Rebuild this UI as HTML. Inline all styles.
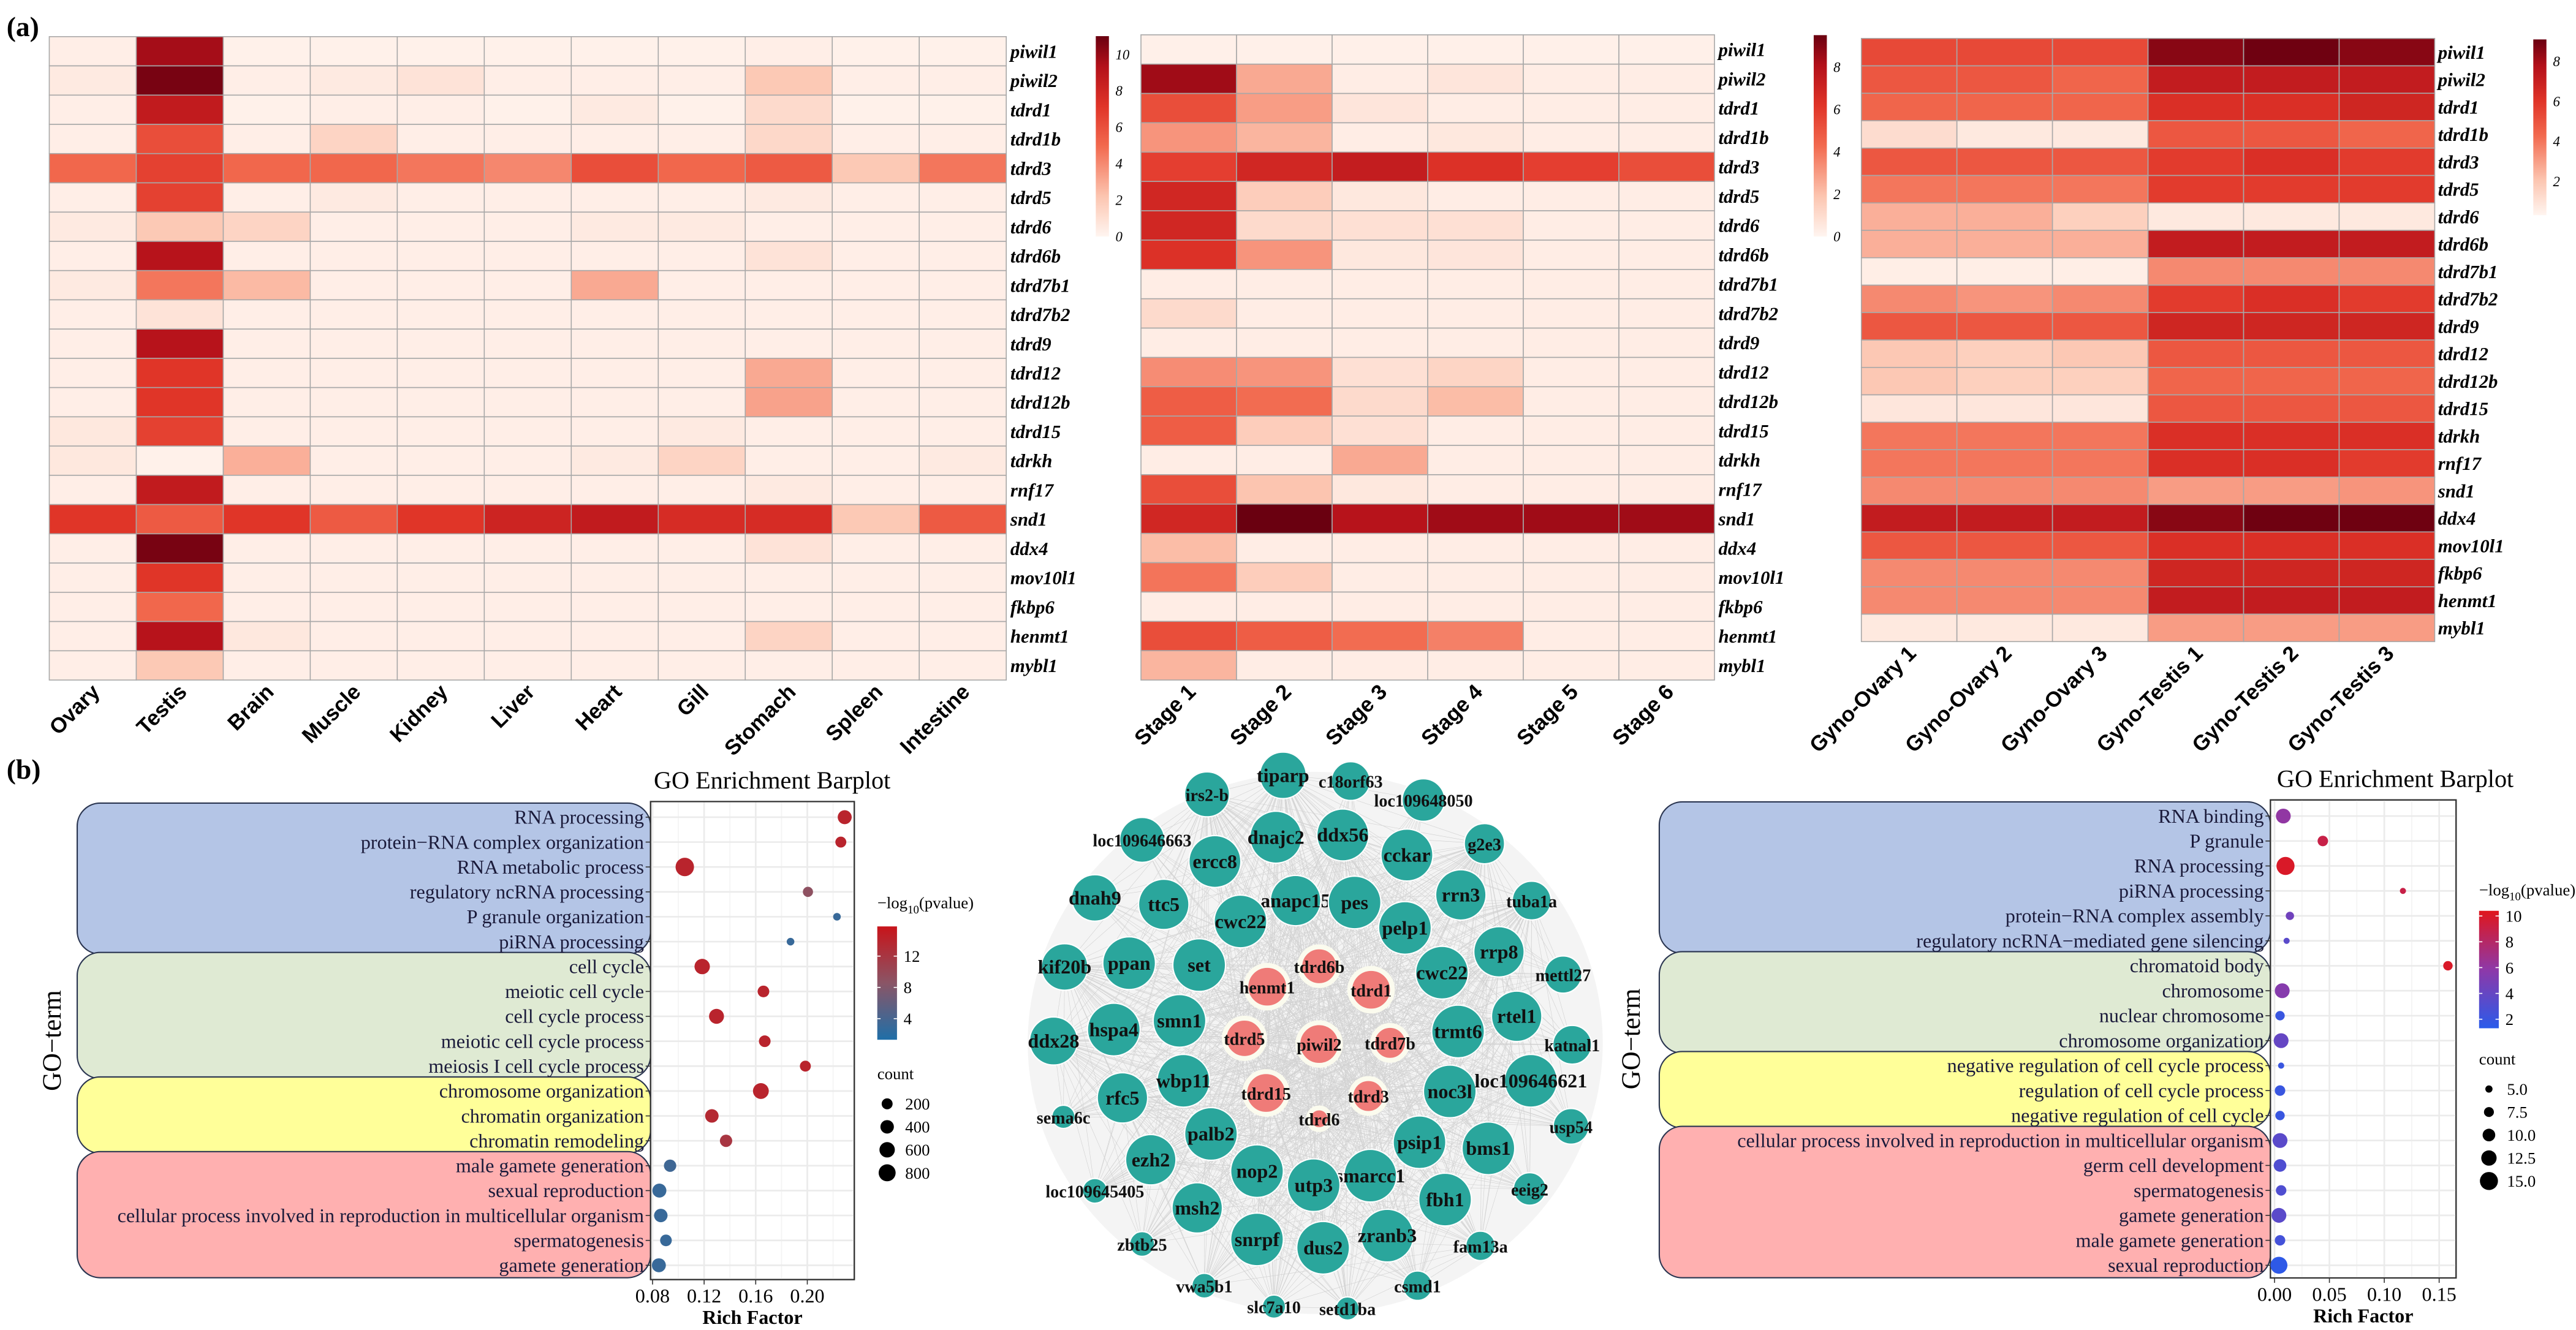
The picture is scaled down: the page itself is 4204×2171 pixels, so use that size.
<!DOCTYPE html>
<html><head><meta charset="utf-8">
<style>
html,body{margin:0;padding:0;background:#fff;}
svg{display:block;}
text{font-family:"Liberation Sans",sans-serif;}
.ser{font-family:"Liberation Serif",serif;}
</style></head>
<body>
<svg id="fig" xmlns="http://www.w3.org/2000/svg" width="4204" height="2171" viewBox="0 0 1568 809.7" preserveAspectRatio="none">
<defs>
<linearGradient id="hmgrad" x1="0" y1="1" x2="0" y2="0">
<stop offset="0" stop-color="#fff5f0"/><stop offset="0.2" stop-color="#fcc5b0"/><stop offset="0.45" stop-color="#f26a4f"/><stop offset="0.65" stop-color="#e03428"/><stop offset="0.85" stop-color="#b3101a"/><stop offset="1" stop-color="#6a0010"/>
</linearGradient>
<linearGradient id="gogradL" x1="0" y1="1" x2="0" y2="0">
<stop offset="0" stop-color="#1f6fa8"/><stop offset="0.5" stop-color="#8a5566"/><stop offset="1" stop-color="#c8141a"/>
</linearGradient>
<linearGradient id="gogradR" x1="0" y1="1" x2="0" y2="0">
<stop offset="0" stop-color="#2a5bea"/><stop offset="0.5" stop-color="#8e38a8"/><stop offset="1" stop-color="#e0161c"/>
</linearGradient>
</defs>
<text x="4" y="22" font-size="17" font-weight="bold" class="ser">(a)</text>
<text x="4" y="474" font-size="17" font-weight="bold" class="ser">(b)</text>
<g id="layer"></g>
</svg>
<script>
// ---------- Heatmap data ----------
const genes = ["piwil1","piwil2","tdrd1","tdrd1b","tdrd3","tdrd5","tdrd6","tdrd6b","tdrd7b1","tdrd7b2","tdrd9","tdrd12","tdrd12b","tdrd15","tdrkh","rnf17","snd1","ddx4","mov10l1","fkbp6","henmt1","mybl1"];
const tissues = ["Ovary","Testis","Brain","Muscle","Kidney","Liver","Heart","Gill","Stomach","Spleen","Intestine"];
const tissueValues = [
[0.3,9.5,0.2,0.2,0.2,0.2,0.2,0.2,0.3,0.2,0.2],
[0.5,10.5,0.3,0.5,0.8,0.3,0.3,0.3,2,0.3,0.3],
[0.3,8.5,0.2,0.3,0.3,0.2,0.5,0.2,1.2,0.2,0.2],
[0.3,6,0.3,1.5,0.3,0.3,0.3,0.3,1.3,0.3,0.3],
[5,6.5,5,5,4.5,4,6,5,5.5,2,4.5],
[0.3,6.5,0.3,0.5,0.3,0.3,0.3,0.3,0.5,0.3,0.3],
[0.5,2,1.5,0.3,0.3,0.3,0.5,0.5,0.3,0.3,0.3],
[0.3,9,0.3,0.3,0.3,0.3,0.3,0.3,0.8,0.3,0.3],
[0.5,4.5,2.5,0.3,0.3,0.3,3,0.3,0.3,0.3,0.3],
[0.3,0.8,0.3,0.3,0.3,0.3,0.3,0.3,0.3,0.3,0.3],
[0.3,9,0.3,0.3,0.3,0.3,0.3,0.3,0.3,0.3,0.3],
[0.3,7,0.3,0.3,0.3,0.3,0.3,0.3,3,0.3,0.3],
[0.3,7,0.3,0.3,0.3,0.3,0.3,0.3,3.2,0.3,0.3],
[0.6,6.5,0.3,0.3,0.3,0.3,0.3,0.5,0.3,0.3,0.3],
[0.6,0.2,2.8,0.3,0.3,0.3,0.5,1.5,0.3,0.3,0.5],
[0.3,8.5,0.3,0.3,0.3,0.3,0.3,0.3,0.5,0.3,0.3],
[7,5.5,7,5.5,7,8,8.5,7.5,7.5,2,5.5],
[0.3,10.5,0.3,0.3,0.3,0.3,0.3,0.3,0.8,0.3,0.3],
[0.3,7,0.3,0.3,0.3,0.3,0.3,0.3,0.3,0.3,0.3],
[0.3,5,0.3,0.3,0.3,0.3,0.3,0.3,0.3,0.3,0.3],
[0.3,9,0.6,0.3,0.3,0.3,0.3,0.3,1.5,0.3,0.3],
[0.3,2,0.3,0.3,0.3,0.3,0.3,0.3,0.3,0.3,0.3]];
const stages = ["Stage 1","Stage 2","Stage 3","Stage 4","Stage 5","Stage 6"];
const stageValues = [
[0.2,0.2,0.2,0.2,0.2,0.2],[8,2.5,0.3,0.6,0.3,0.3],[5,2.8,0.6,0.3,0.3,0.3],[3,2.2,0.3,0.5,0.3,0.3],
[5.5,6.5,7,6,5.5,5],[6.5,1.5,0.5,0.3,0.3,0.3],[6.5,1,0.8,0.8,0.3,0.3],[6,3,0.5,0.6,0.3,0.3],
[0.3,0.3,0.3,0.3,0.3,0.3],[1,0.3,0.3,0.3,0.3,0.3],[0.3,0.3,0.3,0.3,0.3,0.3],[3.2,3,0.8,1.2,0.3,0.3],
[4.5,4,1,2,0.3,0.3],[4.5,1.5,0.8,0.3,0.3,0.3],[0.3,0.3,2.5,0.3,0.3,0.3],[5,1.8,0.5,0.3,0.3,0.3],
[6.5,9.5,7.5,8,8,8],[2,0.3,0.3,0.3,0.3,0.3],[3.8,1.5,0.3,0.3,0.3,0.3],[0.3,0.3,0.3,0.3,0.3,0.3],
[5,4.5,4,3.5,0.3,0.3],[2.2,0.3,0.3,0.3,0.3,0.3]];
const gynoSamples = ["Gyno-Ovary 1","Gyno-Ovary 2","Gyno-Ovary 3","Gyno-Testis 1","Gyno-Testis 2","Gyno-Testis 3"];
const gynoValues = [
[5.5,5.5,5.5,9,9.5,9],[5,5,4.5,7.5,7.5,7.5],[4.5,4.5,4.5,6.5,6.5,7],[1,0.5,0.5,5,5,4.5],
[5,5,5,6,6.5,6],[4,4,4,6,6,6],[2.5,2.5,1.5,0.5,0.5,0.5],[2.5,2.5,2.5,7.5,7.5,7.5],
[0.3,0.3,0.3,3.5,3.5,3.5],[3.5,3.2,3.5,6,6.5,6],[5,5,5,7,7,7],[1.8,1.5,1.8,5,5,5],
[1.8,1.5,1.5,4.5,4.5,4.5],[0.6,0.6,0.6,5,5,5],[4,4,4,6.5,6.5,6.5],[4,4,4,6.5,6.5,6],
[3.5,3.5,3.5,3,3,3.2],[7.5,7.5,7.5,9,9.5,9.5],[5,5,5,6.5,6.5,6.5],[3.5,3.5,3.5,7,7,7],
[3.5,3.5,3.5,7.5,7.5,7.5],[0.5,0.5,0.5,3,3,3]];
const cb1Ticks = [0,2,4,6,8,10];
const cb2Ticks = [0,2,4,6,8];
const cb3Ticks = [2,4,6,8];

// ---------- GO data ----------
const goLeftTerms = ["RNA processing","protein\u2212RNA complex organization","RNA metabolic process","regulatory ncRNA processing","P granule organization","piRNA processing","cell cycle","meiotic cell cycle","cell cycle process","meiotic cell cycle process","meiosis I cell cycle process","chromosome organization","chromatin organization","chromatin remodeling","male gamete generation","sexual reproduction","cellular process involved in reproduction in multicellular organism","spermatogenesis","gamete generation"];
const goLeftRich = [0.229,0.226,0.105,0.2005,0.223,0.187,0.1185,0.166,0.1296,0.167,0.1985,0.164,0.126,0.137,0.0936,0.0853,0.0864,0.0904,0.0849];
const goLeftP = [14,14,14,9,3,3,14,14,14,14,14,14,13.5,12,3.5,3,3,3,3];
const goLeftCount = [450,200,1000,150,40,40,600,250,550,250,200,650,400,300,300,450,400,250,450];
const goLeftTicks = [0.08,0.12,0.16,0.20];
const goLeftPTicks = [4,8,12];
const goLeftCountTicks = [200,400,600,800];

const goRightTerms = ["RNA binding","P granule","RNA processing","piRNA processing","protein\u2212RNA complex assembly","regulatory ncRNA\u2212mediated gene silencing","chromatoid body","chromosome","nuclear chromosome","chromosome organization","negative regulation of cell cycle process","regulation of cell cycle process","negative regulation of cell cycle","cellular process involved in reproduction in multicellular organism","germ cell development","spermatogenesis","gamete generation","male gamete generation","sexual reproduction"];
const goRightRich = [0.008,0.044,0.010,0.117,0.014,0.011,0.158,0.007,0.005,0.006,0.006,0.005,0.005,0.005,0.005,0.006,0.004,0.005,0.004];
const goRightP = [6,9,10,9,4.5,3.5,10,5.5,2,4,2,2,2,3.5,3,3,3.5,2.5,1.5];
const goRightCount = [12,8,15,4,6,4,7,12,7,12,4,8,7,12,10,8,12,8,14];
const goRightTicks = [0.00,0.05,0.10,0.15];
const goRightPTicks = [2,4,6,8,10];
const goRightCountTicks = [5.0,7.5,10.0,12.5,15.0];

// ---------- Network data (node name, zoom-space x, y, radius, hub flag) ----------
const netNodes = [
["tiparp",748,95,60,0],["c18orf63",920,110,50,0],["loc109648050",1105,160,55,0],["irs2-b",555,145,58,0],
["loc109646663",390,265,58,0],["dnajc2",730,258,67,0],["ddx56",900,252,67,0],["ercc8",575,322,67,0],
["cckar",1063,305,67,0],["g2e3",1260,275,52,0],["dnah9",270,418,60,0],["ttc5",445,435,65,0],
["anapc15",780,425,65,0],["pes",930,430,68,0],["rrn3",1200,410,65,0],["tuba1a",1380,425,50,0],
["cwc22",640,480,68,0],["pelp1",1058,497,68,0],["kif20b",193,600,60,0],["ppan",357,590,68,0],
["set",535,595,68,0],["rrp8",1297,560,65,0],["mettl27",1460,620,48,0],["cwc22",1152,615,68,0],
["ddx28",165,795,62,0],["hspa4",318,765,68,0],["smn1",485,742,68,0],["rtel1",1342,730,65,0],
["trmt6",1193,770,68,0],["katnal1",1483,805,50,0],["rfc5",340,945,65,0],["wbp11",495,900,68,0],
["noc3l",1172,928,68,0],["loc109646621",1378,900,68,0],["sema6c",190,995,30,0],["usp54",1480,1020,46,0],
["palb2",565,1040,68,0],["psip1",1095,1062,68,0],["bms1",1270,1078,68,0],["ezh2",412,1108,65,0],
["nop2",682,1138,68,0],["smarcc1",970,1150,68,0],["utp3",826,1175,68,0],["loc109645405",270,1190,32,0],
["eeig2",1375,1185,42,0],["fbh1",1160,1213,68,0],["msh2",530,1235,65,0],["zbtb25",390,1330,32,0],
["snrpf",682,1318,68,0],["dus2",850,1340,68,0],["zranb3",1013,1308,68,0],["fam13a",1250,1335,38,0],
["vwa5b1",548,1440,32,0],["csmd1",1090,1440,38,0],["slc7a10",725,1495,30,0],["setd1ba",912,1500,30,0],
["tdrd6b",840,598,50,1],["henmt1",708,652,55,1],["tdrd1",972,660,55,1],["tdrd5",650,788,52,1],
["piwil2",840,803,55,1],["tdrd7b",1020,800,45,1],["tdrd15",705,932,55,1],["tdrd3",965,940,45,1],["tdrd6",840,1000,28,1]];
</script>
<script>
const NS="http://www.w3.org/2000/svg";
const layer=document.getElementById('layer');
function mk(tag,attrs,parent,txt){const e=document.createElementNS(NS,tag);for(const k in attrs)e.setAttribute(k,attrs[k]);if(txt!==undefined)e.textContent=txt;(parent||layer).appendChild(e);return e;}
const stops=[[0,[255,245,240]],[0.2,[252,197,176]],[0.45,[242,106,79]],[0.65,[224,52,40]],[0.85,[179,16,26]],[1,[106,0,16]]];
function cmap(t){t=Math.max(0,Math.min(1,t));for(let i=1;i<stops.length;i++){if(t<=stops[i][0]){const a=stops[i-1],b=stops[i];const f=(t-a[0])/(b[0]-a[0]);const c=a[1].map((v,j)=>Math.round(v+(b[1][j]-v)*f));return `rgb(${c[0]},${c[1]},${c[2]})`;}}return 'rgb(106,0,16)';}

function heatmap(name,values,cols,x0,x1,y0,y1,vmax,labelX,cb,cbTicks,labelDx){
  const g=mk('g',{});
  
  
  const nr=values.length,nc=cols.length,cw=(x1-x0)/nc,rh=(y1-y0)/nr;
  values.forEach((row,i)=>row.forEach((v,j)=>{
    const r=mk('rect',{x:x0+j*cw,y:y0+i*rh,width:cw,height:rh,fill:cmap(v/vmax),stroke:'#a8a8a8','stroke-width':0.6},g);
    
    
  }));
  genes.forEach((gn,i)=>{
    const t=mk('text',{x:labelX,y:y0+(i+0.5)*rh+4,'font-size':11.5,'font-weight':'bold','font-style':'italic',class:'ser'},g,gn);
    
    
  });
  cols.forEach((c,j)=>{
    const cx=x0+(j+0.5)*cw+labelDx, cy=y1+8;
    const t=mk('text',{x:cx,y:cy,'font-size':13,'font-weight':'bold','text-anchor':'end',transform:`rotate(-45 ${cx} ${cy})`},g,c);
    
    
  });
  const cbr=mk('rect',{x:cb.x,y:cb.top,width:8,height:cb.bot-cb.top,fill:'url(#hmgrad)'},g);
  
  
  cbTicks.forEach(v=>{
    const y=cb.zero-(v/cb.vtop)*(cb.zero-cb.top);
    const t=mk('text',{x:cb.x+12,y:y+3,'font-size':8.5,'font-style':'italic',class:'ser'},g,String(v));
    
    
  });
}
heatmap('tissue-heatmap',tissueValues,tissues,30,612.5,22.3,414,10.8,615,{x:667,top:22,bot:144,zero:144,vtop:11},cb1Ticks,5);
heatmap('stage-heatmap',stageValues,stages,694.5,1043.6,21.2,414,9.0,1046,{x:1104,top:21.4,bot:144,zero:144,vtop:9.5},cb2Ticks,5);
heatmap('gyno-heatmap',gynoValues,gynoSamples,1133,1482,23.4,390.6,9.6,1484,{x:1542,top:24,bot:131,zero:134.6,vtop:9.1},cb3Ticks,5);

// ---------- GO dotplots ----------
function lerpCol(a,b,f){return a.map((v,i)=>Math.round(v+(b[i]-v)*f));}
function goPlot(o){
  const g=mk('g',{});
  
  
  const n=o.terms.length, rowH=(o.yLast-o.yFirst)/(n-1);
  const xs=v=>o.xpx0+(v-o.xv0)*o.pxPer;
  const ys=i=>o.yFirst+i*rowH;
  o.boxes.forEach(b=>{
    const r=mk('rect',{x:o.boxX0,y:ys(b[0])-rowH/2-1,width:o.boxX1-o.boxX0,height:(b[1]-b[0]+1)*rowH+1,rx:14,fill:b[2],stroke:'#2a3550','stroke-width':0.8},g);
    
    
  });
  mk('rect',{x:o.px0,y:o.py0,width:o.px1-o.px0,height:o.py1-o.py0,fill:'#fff',stroke:'#333','stroke-width':0.8},g);
  o.ticks.forEach(v=>{mk('line',{x1:xs(v),x2:xs(v),y1:o.py0,y2:o.py1,stroke:'#ebebeb','stroke-width':1},g);
    const m=v+(o.ticks[1]-o.ticks[0])/2; if(xs(m)<o.px1) mk('line',{x1:xs(m),x2:xs(m),y1:o.py0,y2:o.py1,stroke:'#f3f3f3','stroke-width':0.6},g);});
  o.terms.forEach((t,i)=>{mk('line',{x1:o.px0,x2:o.px1,y1:ys(i),y2:ys(i),stroke:'#ebebeb','stroke-width':1},g);});
  mk('rect',{x:o.px0,y:o.py0,width:o.px1-o.px0,height:o.py1-o.py0,fill:'none',stroke:'#333','stroke-width':0.8},g);
  o.terms.forEach((t,i)=>{
    mk('line',{x1:o.px0-3,x2:o.px0,y1:ys(i),y2:ys(i),stroke:'#333','stroke-width':0.6},g);
    const tx=mk('text',{x:o.px0-4,y:ys(i)+4,'font-size':12,'text-anchor':'end',class:'ser',fill:'#1a1a3a'},g,t);
    
    
  });
  o.ticks.forEach(v=>{
    mk('line',{x1:xs(v),x2:xs(v),y1:o.py1,y2:o.py1+3,stroke:'#333','stroke-width':0.6},g);
    const t=mk('text',{x:xs(v),y:o.py1+14,'font-size':12,'text-anchor':'middle',class:'ser'},g,o.tickFmt(v));
    
    
  });
  const xt=mk('text',{x:(o.px0+o.px1)/2,y:o.py1+27,'font-size':12,'font-weight':'bold','text-anchor':'middle',class:'ser'},g,'Rich Factor');
  
  
  const tt=mk('text',{x:o.titleX,y:o.py0-8,'font-size':15,'text-anchor':'middle',class:'ser'},g,'GO Enrichment Barplot');
  
  
  const yt=mk('text',{x:o.yTitleX,y:(o.py0+o.py1)/2,'font-size':16,'text-anchor':'middle',class:'ser',transform:`rotate(-90 ${o.yTitleX} ${(o.py0+o.py1)/2})`},g,'GO\u2212term');
  
  
  const col=p=>{const f=(p-o.pmin)/(o.pmax-o.pmin);const c=f<0.5?lerpCol(o.cLow,o.cMid,f*2):lerpCol(o.cMid,o.cHigh,(f-0.5)*2);return `rgb(${c})`;};
  o.terms.forEach((t,i)=>{
    const c=mk('circle',{cx:xs(o.rich[i]),cy:ys(i),r:o.rscale(o.count[i]),fill:col(Math.max(o.pmin,Math.min(o.pmax,o.p[i])))},g);
    
    
  });
  const lx=o.legX;
  const lt=mk('text',{x:lx,y:o.legY,'font-size':10,class:'ser'},g,'\u2212log');
  mk('tspan',{'font-size':7,dy:3},lt,'10');
  mk('tspan',{dy:-3},lt,'(pvalue)');
  
  
  const cbT=o.cbT, cbB=o.cbB;
  const cb=mk('rect',{x:lx,y:cbT,width:12,height:cbB-cbT,fill:o.grad},g);
  
  
  o.pTicks.forEach(v=>{
    const y=cbB-(v-o.pmin)/(o.pmax-o.pmin)*(cbB-cbT);
    mk('line',{x1:lx,x2:lx+2,y1:y,y2:y,stroke:'#fff','stroke-width':0.6},g);
    mk('line',{x1:lx+10,x2:lx+12,y1:y,y2:y,stroke:'#fff','stroke-width':0.6},g);
    mk('text',{x:lx+16,y:y+3.5,'font-size':10,class:'ser'},g,String(v));
  });
  const ct=mk('text',{x:lx,y:o.cntY,'font-size':10,class:'ser'},g,'count');
  
  
  o.cTicks.forEach((v,k)=>{
    const y=o.cntY+15+k*o.cntStep;
    const c=mk('circle',{cx:lx+6,cy:y,r:o.rscale(v),fill:'#000'},g);
    
    
    mk('text',{x:lx+17,y:y+3.5,'font-size':10,class:'ser'},g,o.cFmt(v));
  });
}
goPlot({name:'go-left-dotplot',terms:goLeftTerms,rich:goLeftRich,p:goLeftP,count:goLeftCount,ticks:goLeftTicks,
  tickFmt:v=>v.toFixed(2),px0:396,px1:520,py0:488,py1:779,xv0:0.08,xpx0:397.2,pxPer:31.4/0.04,yFirst:497.5,yLast:770.3,
  boxX0:47,boxX1:396,boxes:[[0,5,'#b4c5e6'],[6,10,'#dfead3'],[11,13,'#ffff99'],[14,18,'#ffb0b0']],
  titleX:470,yTitleX:37,pmin:1.3,pmax:15.8,cLow:[31,111,168],cMid:[138,85,102],cHigh:[200,20,26],grad:'url(#gogradL)',
  rscale:c=>1.5+Math.sqrt(c)*0.13,legX:534,legY:553,cbT:564,cbB:633,pTicks:goLeftPTicks,cntY:657,cntStep:14,cTicks:goLeftCountTicks,cFmt:v=>String(v)});
goPlot({name:'go-right-dotplot',terms:goRightTerms,rich:goRightRich,p:goRightP,count:goRightCount,ticks:goRightTicks,
  tickFmt:v=>v.toFixed(2),px0:1382,px1:1495,py0:487,py1:778,xv0:0,xpx0:1384.5,pxPer:33.4/0.05,yFirst:496.8,yLast:770.3,
  boxX0:1010,boxX1:1382,boxes:[[0,5,'#b4c5e6'],[6,9,'#dfead3'],[10,12,'#ffff99'],[13,18,'#ffb0b0']],
  titleX:1458,yTitleX:998,pmin:1.3,pmax:10.4,cLow:[42,91,234],cMid:[142,56,168],cHigh:[224,22,28],grad:'url(#gogradR)',
  rscale:c=>0.55+c*0.33,legX:1509,legY:545,cbT:554.5,cbB:626,pTicks:goRightPTicks,cntY:648,cntStep:14,cTicks:goRightCountTicks,cFmt:v=>v.toFixed(1)});

// ---------- Network ----------
const ng=mk('g',{});


const nx=zx=>601.8+0.2395*zx, ny=zy=>450.1+0.231*zy, nr=r=>r*0.236;
mk('ellipse',{cx:nx(830),cy:ny(800),rx:175,ry:165,fill:'#ececec',opacity:0.6},ng);
const eg=mk('g',{stroke:'#b8b8b8','stroke-width':0.25,opacity:0.55},ng);
for(let i=0;i<netNodes.length;i++)for(let j=i+1;j<netNodes.length;j++){
  if((i*7+j*3)%3===0||netNodes[i][4]||netNodes[j][4])
  mk('line',{x1:nx(netNodes[i][1]),y1:ny(netNodes[i][2]),x2:nx(netNodes[j][1]),y2:ny(netNodes[j][2])},eg);
}
netNodes.forEach(n=>{
  const [name,zx,zy,zr,hub]=n;
  const c=mk('circle',{cx:nx(zx),cy:ny(zy),r:nr(zr),fill:hub?'#ef7b78':'#2aa69c',stroke:hub?'#fbfbee':'#ffffff','stroke-width':hub?3:0.8},ng);
  
  
  const fs=zr>=60?12:10.5;
  const t=mk('text',{x:nx(zx),y:ny(zy)+4,'font-size':fs,'font-weight':'bold','text-anchor':'middle',class:'ser',fill:'#111'},ng,name);
  
  
});
</script>
</body></html>
